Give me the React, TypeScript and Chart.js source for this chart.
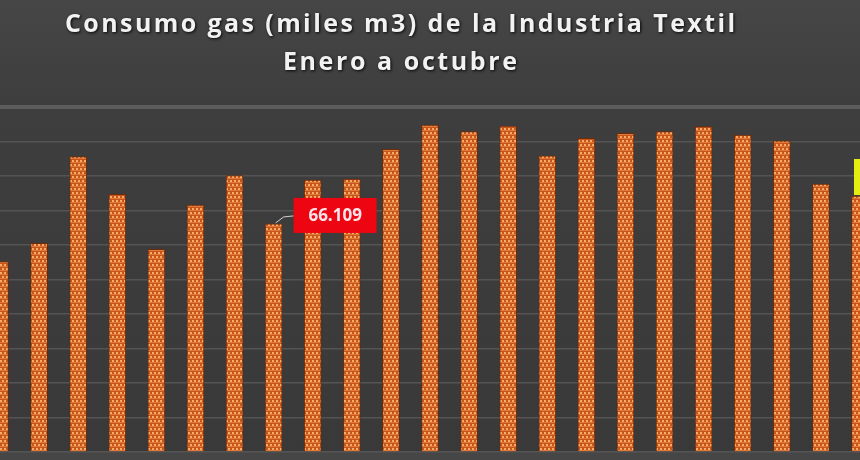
import React, { useEffect, useRef } from "react";
import { Chart, registerables } from "chart.js";

Chart.register(...registerables);

const titleLines = ["Consumo gas (miles m3) de la Industria Textil", "Enero a octubre"];
const categories = ["1", "2", "3", "4", "5", "6", "7", "8", "9", "10", "11", "12", "13", "14", "15", "16", "17", "18", "19", "20", "21", "22", "23"];
const consumo = [55160, 60490, 85600, 74700, 58750, 71600, 80090, 66109, 78840, 79130, 87740, 94780, 92840, 94490, 85880, 90930, 92380, 92840, 94290, 91880, 90230, 77680, 74200];
const yMin = 0;
const yMax = 100000;
const yStep = 10000;
const highlightIndex = 7;
const lastIndex = 22;

function fmt(v: number): string {
  return String(Math.round(v)).replace(/\B(?=(\d{3})+(?!\d))/g, ".");
}

function makePattern(): CanvasPattern | string {
  const c = document.createElement("canvas");
  c.width = 8;
  c.height = 8;
  const g = c.getContext("2d");
  if (!g) return "#d86a2a";
  g.fillStyle = "#c8551b";
  g.fillRect(0, 0, 8, 8);
  g.fillStyle = "#e07a38";
  g.fillRect(0, 2, 8, 1);
  g.fillRect(0, 6, 8, 1);
  g.fillStyle = "#f8ac68";
  g.fillRect(0, 0, 2, 2);
  g.fillRect(4, 0, 2, 2);
  g.fillRect(2, 4, 2, 2);
  g.fillRect(6, 4, 2, 2);
  const p = g.createPattern(c, "repeat");
  return p || "#d86a2a";
}

const backgroundPlugin = {
  id: "bgPlugin",
  beforeDraw(chart: any) {
    const { ctx, width, height, chartArea } = chart;
    ctx.save();
    const grad = ctx.createLinearGradient(0, 0, 0, height);
    grad.addColorStop(0, "#464646");
    grad.addColorStop(0.22, "#3e3e3e");
    grad.addColorStop(1, "#393939");
    ctx.fillStyle = grad;
    ctx.fillRect(0, 0, width, height);
    ctx.fillStyle = "#464646";
    ctx.fillRect(0, chartArea.bottom, width, height - chartArea.bottom);
    ctx.restore();
  },
};

function drawSpaced(ctx: any, text: string, cx: number, y: number, target: number) {
  ctx.letterSpacing = "0px";
  const w0 = ctx.measureText(text).width;
  const sp = Math.max(0, (target - w0) / Math.max(1, text.length - 1));
  ctx.letterSpacing = sp.toFixed(2) + "px";
  ctx.textAlign = "left";
  const w = w0 + sp * (text.length - 1);
  ctx.fillText(text, cx - w / 2, y);
  ctx.letterSpacing = "0px";
}

const titlePlugin = {
  id: "titlePlugin",
  afterDraw(chart: any) {
    const { ctx } = chart;
    ctx.save();
    ctx.fillStyle = "#f2f2f2";
    ctx.textBaseline = "alphabetic";
    ctx.shadowColor = "rgba(0,0,0,0.9)";
    ctx.shadowBlur = 3;
    ctx.shadowOffsetX = 1;
    ctx.shadowOffsetY = 1;
    ctx.font = "bold 25px 'Open Sans'";
    drawSpaced(ctx, titleLines[0], 400, 32, 670);
    drawSpaced(ctx, titleLines[1], 400, 70, 234);
    ctx.restore();
  },
};

const labelPlugin = {
  id: "labelPlugin",
  afterDatasetsDraw(chart: any) {
    const { ctx } = chart;
    const meta = chart.getDatasetMeta(0);
    const el = meta.data[highlightIndex];
    if (el) {
      const bx = el.x + 20;
      const by = el.y - 26;
      const bw = 83;
      const bh = 35;
      ctx.save();
      ctx.strokeStyle = "#cfcfcf";
      ctx.lineWidth = 1;
      ctx.beginPath();
      ctx.moveTo(el.x + 2, el.y - 1);
      ctx.lineTo(el.x + 10, el.y - 7);
      ctx.lineTo(bx, el.y - 8);
      ctx.stroke();
      ctx.fillStyle = "#ee0512";
      ctx.fillRect(bx, by, bw, bh);
      ctx.fillStyle = "#ffe4ea";
      ctx.font = "bold 17px 'Open Sans'";
      ctx.textAlign = "center";
      ctx.textBaseline = "middle";
      ctx.fillText(fmt(consumo[highlightIndex]), bx + bw / 2, by + bh / 2 + 1);
      ctx.restore();
    }
    const el2 = meta.data[lastIndex];
    if (el2) {
      ctx.save();
      ctx.fillStyle = "#e4ee10";
      const bx = el2.x - 6;
      const by = el2.y - 37;
      ctx.fillRect(bx, by, 80, 36);
      ctx.fillStyle = "#222222";
      ctx.font = "bold 16px 'Open Sans'";
      ctx.textAlign = "center";
      ctx.textBaseline = "middle";
      ctx.fillText(fmt(consumo[lastIndex]), bx + 40, by + 18);
      ctx.restore();
    }
  },
};

export default function App() {
  const ref = useRef<HTMLCanvasElement | null>(null);
  useEffect(() => {
    if (!ref.current) return;
    const pattern = makePattern();
    const chart = new Chart(ref.current, {
      type: "bar",
      data: {
        labels: categories,
        datasets: [
          {
            label: "Consumo gas",
            data: consumo,
            backgroundColor: pattern as any,
            borderColor: "#6a2c0c",
            borderWidth: 1,
            barThickness: 17,
          },
        ],
      },
      options: {
        animation: false,
        responsive: true,
        maintainAspectRatio: false,
        layout: { padding: { top: 107, bottom: 8, left: 0, right: 0 } },
        plugins: {
          legend: { display: false },
          title: { display: false },
          tooltip: { enabled: false },
        },
        scales: {
          x: {
            display: false,
            offset: false,
            grid: { display: false },
          },
          y: {
            min: yMin,
            max: yMax,
            ticks: { display: false, stepSize: yStep },
            border: { display: false },
            grid: {
              drawTicks: false,
              color: (c: any) => (c.tick && c.tick.value === yMax ? "#5c5c5c" : "#545454"),
              lineWidth: (c: any) => (c.tick && c.tick.value === yMax ? 4 : 1.5),
            },
          },
        },
      },
      plugins: [backgroundPlugin, labelPlugin, titlePlugin],
    });
    return () => chart.destroy();
  }, []);
  return (
    <div style={{ position: "fixed", left: 0, top: 0, width: 860, height: 460, overflow: "hidden" }}>
      <canvas ref={ref} />
    </div>
  );
}
